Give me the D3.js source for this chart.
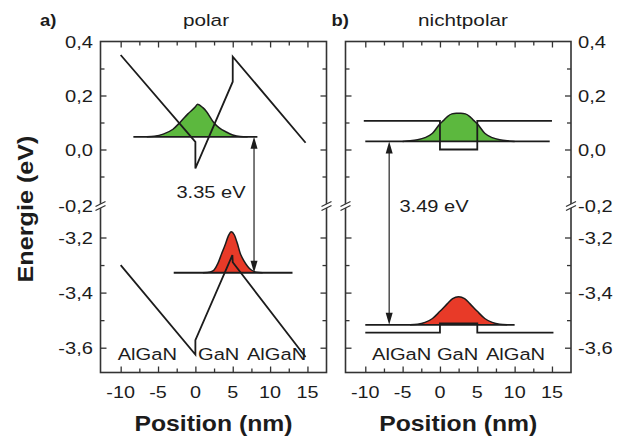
<!DOCTYPE html>
<html><head><meta charset="utf-8">
<script src="https://cdn.jsdelivr.net/npm/d3@7"></script>
<style>html,body{margin:0;padding:0;background:#fff;} svg{display:block;font-family:"Liberation Sans",Arial,sans-serif;}</style>
</head><body><svg id="c" width="622" height="441"></svg>
<script>
// ---------- data ----------
const xMajorTicks = [-10, -5, 0, 5, 10, 15];
const xMinorTicks = [-7.5, -2.5, 2.5, 7.5, 12.5];
const yUpperMajor = [0.4, 0.2, 0.0, -0.2];
const yUpperLabels = ["0,4", "0,2", "0,0", "-0,2"];
const yUpperMinor = [0.3, 0.1, -0.1];
const yLowerMajor = [-3.2, -3.4, -3.6];
const yLowerLabels = ["-3,2", "-3,4", "-3,6"];
const yLowerMinor = [-3.3, -3.5];
const panelLetters = ["a)", "b)"];
const panelTitles = ["polar", "nichtpolar"];
const regionLabels = ["AlGaN", "GaN", "AlGaN"];
const gapLabels = ["3.35 eV", "3.49 eV"];
const xTitle = "Position (nm)";
const yTitle = "Energie (eV)";

// polar panel
const polarCB = [[-10, 0.35], [0, 0.028], [0, -0.07], [5, 0.251], [5, 0.344], [14.75, 0.025]];
const polarVB = [[-10, -3.30], [0, -3.625], [0, -3.573], [4.95, -3.264], [5, -3.29], [14.75, -3.634]];
const polarElecLevel = 0.047, polarElecRange = [-8.3, 8.3];
const polarHoleLevel = -3.328, polarHoleRange = [-2.9, 13.0];
const polarElecWave = [[-6.5, 0.047], [-5.5, 0.049], [-4.3, 0.057], [-3, 0.075], [-2, 0.102], [-1, 0.132], [0, 0.158], [0.3, 0.168], [1, 0.155], [1.5, 0.14], [2.4, 0.102], [3.2, 0.080], [4.2, 0.064], [5, 0.054], [6, 0.048], [7, 0.047]];
const polarHoleWave = [[1.0, -3.328], [2.0, -3.325], [2.5, -3.318], [3.0, -3.295], [3.5, -3.26], [4.0, -3.225], [4.4, -3.195], [4.8, -3.179], [5.2, -3.19], [5.6, -3.22], [6.0, -3.257], [6.5, -3.285], [7.0, -3.305], [7.5, -3.318], [8.2, -3.326], [9, -3.328]];
const polarArrowX = 7.85;

// nonpolar panel
const npCB = [[-10.2, 0.106], [0, 0.106], [0, 0.0], [5, 0.0], [5, 0.106], [15, 0.106]];
const npVB = [[-10, -3.545], [0, -3.545], [0, -3.512], [5, -3.512], [5, -3.545], [15.2, -3.545]];
const npElecLevel = 0.030, npElecRange = [-10, 14.7];
const npHoleLevel = -3.517, npHoleRange = [-10, 10];
const npElecWave = [[-5, 0.030], [-4, 0.032], [-3, 0.036], [-2, 0.044], [-1, 0.060], [0, 0.095], [0.5, 0.108], [1, 0.122], [1.6, 0.132], [2.2, 0.134], [2.8, 0.134], [3.4, 0.132], [4, 0.122], [4.5, 0.108], [5, 0.095], [6, 0.060], [7, 0.044], [8, 0.036], [9, 0.032], [10, 0.030]];
const npHoleWave = [[-4, -3.517], [-3, -3.515], [-2, -3.508], [-1, -3.494], [0, -3.468], [1, -3.44], [1.7, -3.422], [2.5, -3.415], [3.3, -3.422], [4, -3.44], [5, -3.468], [6, -3.494], [7, -3.508], [8, -3.515], [9, -3.517]];
const npArrowX = -6.8;

// ---------- scales ----------
const svg = d3.select("#c");
const top0 = 41.5, bot0 = 372.5, breakY = 205.5;
const yU = d3.scaleLinear().domain([-0.2, 0.4]).range([203.5, top0]);
const yL = d3.scaleLinear().domain([-3.69, -3.2]).range([bot0, 237.5]);
const Y = v => v > -1 ? yU(v) : yL(v);
const xA = d3.scaleLinear().domain([-12.7, 17.55]).range([100.5, 326.5]);
const xB = d3.scaleLinear().domain([-12.65, 17.55]).range([345.5, 571]);

const INK = "#1c1c1c", FRAME = "#333";
const GREEN = "#5cb83e", RED = "#e83a28";

function txt(g, x, y, s, o) {
  o = o || {};
  return g.append("text")
    .attr("transform", `translate(${x},${y})${o.rot ? ` rotate(${o.rot})` : ""} scale(${o.sx || 1.22},1)`)
    .attr("text-anchor", o.anchor || "start")
    .style("font-size", (o.size || 16.5) + "px")
    .style("font-weight", o.weight || "normal")
    .attr("fill", INK)
    .text(s);
}

const panels = [
  { x: xA, cb: polarCB, vb: polarVB, eL: polarElecLevel, eR: polarElecRange, hL: polarHoleLevel, hR: polarHoleRange,
    eW: polarElecWave, hW: polarHoleWave, ax: polarArrowX, gapPos: [211, 198], leftLabels: true, rightLabels: false,
    regionX: [[-10.4, 0.35, 6.9]] },
  { x: xB, cb: npCB, vb: npVB, eL: npElecLevel, eR: npElecRange, hL: npHoleLevel, hR: npHoleRange,
    eW: npElecWave, hW: npHoleWave, ax: npArrowX, gapPos: [434, 212], leftLabels: false, rightLabels: true,
    regionX: [[-9.1, -0.4, 6.15]] }
];

panels.forEach((p, i) => {
  const g = svg.append("g");
  const x = p.x;
  const [x0, x1] = x.range();

  // wavefunction fills
  const drawWave = (data, level, color) => {
    const area = d3.area().x(d => x(d[0])).y0(Y(level)).y1(d => Y(d[1])).curve(d3.curveMonotoneX);
    const line = d3.line().x(d => x(d[0])).y(d => Y(d[1])).curve(d3.curveMonotoneX);
    g.append("path").datum(data).attr("d", area).attr("fill", color);
    g.append("path").datum(data).attr("d", line).attr("fill", "none").attr("stroke", INK).attr("stroke-width", 1.5);
  };
  drawWave(p.eW, p.eL, GREEN);
  drawWave(p.hW, p.hL, RED);

  // band edges
  const bl = d3.line().x(d => x(d[0])).y(d => Y(d[1]));
  [p.cb, p.vb].forEach(b => g.append("path").datum(b).attr("d", bl)
    .attr("fill", "none").attr("stroke", INK).attr("stroke-width", 1.8).attr("stroke-linejoin", "miter"));

  // levels
  [[p.eR, p.eL], [p.hR, p.hL]].forEach(([r, l]) => g.append("line")
    .attr("x1", x(r[0])).attr("x2", x(r[1])).attr("y1", Y(l)).attr("y2", Y(l))
    .attr("stroke", INK).attr("stroke-width", 1.8));

  // double arrow
  const axp = x(p.ax), ya = Y(p.eL), yb = Y(p.hL);
  g.append("line").attr("x1", axp).attr("x2", axp).attr("y1", ya + 8).attr("y2", yb - 8)
    .attr("stroke", "#333").attr("stroke-width", 1.3);
  g.append("path").attr("d", `M${axp},${ya}L${axp - 3.5},${ya + 12}L${axp + 3.5},${ya + 12}Z`).attr("fill", INK);
  g.append("path").attr("d", `M${axp},${yb}L${axp - 3.5},${yb - 12}L${axp + 3.5},${yb - 12}Z`).attr("fill", INK);
  txt(g, p.gapPos[0], p.gapPos[1], gapLabels[i], { anchor: "middle", size: 17, sx: 1.18 });

  // region labels
  p.regionX[0].forEach((rx, k) => txt(g, x(rx), 360, regionLabels[k], { size: 16.5, sx: 1.22 }));

  // frame
  g.append("rect").attr("x", x0).attr("y", top0).attr("width", x1 - x0).attr("height", bot0 - top0)
    .attr("fill", "none").attr("stroke", FRAME).attr("stroke-width", 1.6);

  // x ticks (bottom and top, inward)
  const tickStyle = s => s.call(a => a.select(".domain").remove()).selectAll("line").attr("stroke", FRAME).attr("stroke-width", 1.3);
  g.append("g").attr("transform", `translate(0,${bot0})`).call(d3.axisBottom(x).tickValues(xMajorTicks).tickSize(-6).tickFormat("")).call(tickStyle);
  g.append("g").attr("transform", `translate(0,${bot0})`).call(d3.axisBottom(x).tickValues(xMinorTicks).tickSize(-4).tickFormat("")).call(tickStyle);
  g.append("g").attr("transform", `translate(0,${top0})`).call(d3.axisTop(x).tickValues(xMajorTicks).tickSize(-6).tickFormat("")).call(tickStyle);
  g.append("g").attr("transform", `translate(0,${top0})`).call(d3.axisTop(x).tickValues(xMinorTicks).tickSize(-4).tickFormat("")).call(tickStyle);

  // x tick labels
  xMajorTicks.forEach(t => txt(g, x(t), 398, String(t), { anchor: "middle", size: 16.5, sx: 1.2 }));

  // y ticks (both sides, inward)
  [[yU, yUpperMajor.slice(1, 3), yUpperMinor], [yL, yLowerMajor, yLowerMinor]].forEach(([ys, maj, mnr]) => {
    g.append("g").attr("transform", `translate(${x0},0)`).call(d3.axisLeft(ys).tickValues(maj).tickSize(-6).tickFormat("")).call(tickStyle);
    g.append("g").attr("transform", `translate(${x0},0)`).call(d3.axisLeft(ys).tickValues(mnr).tickSize(-4).tickFormat("")).call(tickStyle);
    g.append("g").attr("transform", `translate(${x1},0)`).call(d3.axisRight(ys).tickValues(maj).tickSize(-6).tickFormat("")).call(tickStyle);
    g.append("g").attr("transform", `translate(${x1},0)`).call(d3.axisRight(ys).tickValues(mnr).tickSize(-4).tickFormat("")).call(tickStyle);
  });

  // y tick labels
  const yl = [];
  yUpperMajor.forEach((v, k) => yl.push([v === -0.2 ? breakY : yU(v), yUpperLabels[k]]));
  yLowerMajor.forEach((v, k) => yl.push([yL(v), yLowerLabels[k]]));
  if (p.leftLabels) yl.forEach(([yy, s]) => txt(g, x0 - 7.5, yy + 6, s, { anchor: "end", size: 16.5, sx: 1.22 }));
  if (p.rightLabels) yl.forEach(([yy, s]) => txt(g, x1 + 7, yy + 6, s, { anchor: "start", size: 16.5, sx: 1.22 }));

  // axis breaks
  [x0, x1].forEach(bx => {
    g.append("path").attr("d", `M${bx - 5},${breakY + 1}L${bx + 5},${breakY - 4}L${bx + 5},${breakY}L${bx - 5},${breakY + 5}Z`).attr("fill", "#fff");
    g.append("path").attr("d", `M${bx - 5},${breakY + 1}L${bx + 5},${breakY - 4}M${bx - 5},${breakY + 5}L${bx + 5},${breakY}`)
      .attr("stroke", FRAME).attr("stroke-width", 1.3).attr("fill", "none");
  });

  // titles
  txt(g, (x0 + x1) / 2, 431, xTitle, { anchor: "middle", size: 22.5, weight: "bold", sx: 1.1 });
  txt(g, i === 0 ? 206 : 463, 26, panelTitles[i], { anchor: "middle", size: 17, sx: 1.22 });
  txt(g, i === 0 ? 40 : 331.5, 26, panelLetters[i], { size: 16, weight: "bold", sx: 1.15 });
});

txt(svg, 33, 209, yTitle, { anchor: "middle", size: 22.5, weight: "bold", rot: -90, sx: 1.12 });
</script>
</body></html>
